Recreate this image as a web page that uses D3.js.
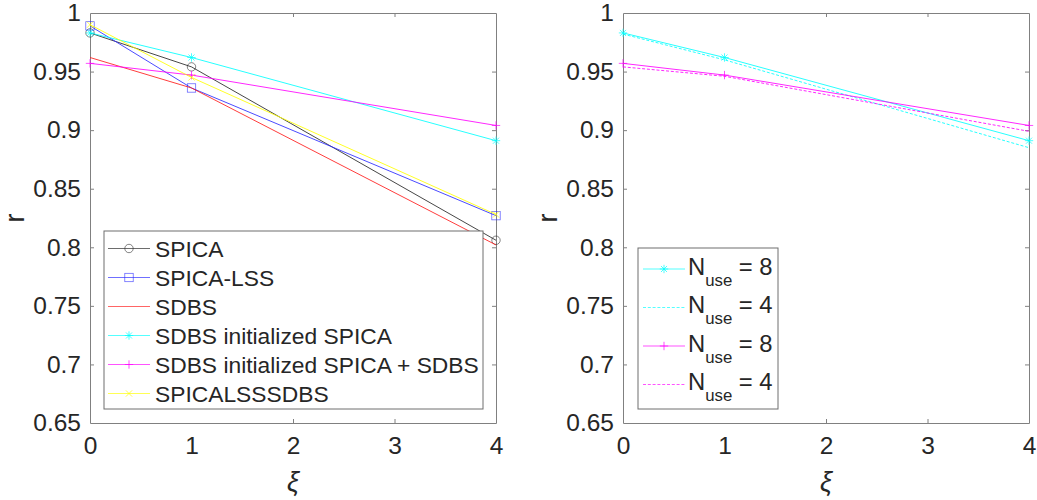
<!DOCTYPE html>
<html>
<head>
<meta charset="utf-8">
<script src="https://cdn.jsdelivr.net/npm/d3@7"></script>
<style>
  body { margin: 0; background: #fff; }
  text { font-family: "Liberation Sans", Arial, Helvetica, sans-serif; fill: #262626; }
</style>
</head>
<body>
<svg id="chart" width="1037" height="500"></svg>
<script>
// Correlation r versus noise level xi
const xiValues = [0, 1, 4];

// Left panel: method comparison
const spica             = [0.983, 0.954, 0.806];
const spicaLss          = [0.989, 0.936, 0.827];
const sdbs              = [0.962, 0.936, 0.802];
const sdbsInitSpica     = [0.983, 0.962, 0.891];
const sdbsInitSpicaSdbs = [0.957, 0.947, 0.904];
const spicaLssSdbs      = [0.990, 0.945, 0.828];

// Right panel: effect of N_use
const cyanNuse8    = [0.983, 0.962, 0.891];
const cyanNuse4    = [0.982, 0.960, 0.885];
const magentaNuse8 = [0.957, 0.947, 0.904];
const magentaNuse4 = [0.954, 0.946, 0.899];

const xTickValues = [0, 1, 2, 3, 4];
const yTickValues = [0.65, 0.7, 0.75, 0.8, 0.85, 0.9, 0.95, 1];
const yTickLabels = ["0.65", "0.7", "0.75", "0.8", "0.85", "0.9", "0.95", "1"];

const leftSeries = [
  { name: "SPICA", values: spica, color: "#262626", marker: "circle", dash: null },
  { name: "SPICA-LSS", values: spicaLss, color: "#2a2aff", marker: "square", dash: null },
  { name: "SDBS", values: sdbs, color: "#ff1a1a", marker: null, dash: null },
  { name: "SDBS initialized SPICA", values: sdbsInitSpica, color: "#00ffff", marker: "asterisk", dash: null },
  { name: "SDBS initialized SPICA + SDBS", values: sdbsInitSpicaSdbs, color: "#ff00ff", marker: "plus", dash: null },
  { name: "SPICALSSSDBS", values: spicaLssSdbs, color: "#ffff00", marker: "cross", dash: null }
];

const rightSeries = [
  { name: "8", values: cyanNuse8, color: "#00ffff", marker: "asterisk", dash: null },
  { name: "4", values: cyanNuse4, color: "#00ffff", marker: null, dash: "3,1.8" },
  { name: "8", values: magentaNuse8, color: "#ff00ff", marker: "plus", dash: null },
  { name: "4", values: magentaNuse4, color: "#ff00ff", marker: null, dash: "3,1.8" }
];

const svg = d3.select("#chart");
const axisColor = "#808080";
const tickLen = 4;
const lineWidth = 0.85;

function drawMarker(g, type, x, y, color) {
  const s = 4.2;
  if (type === "circle") {
    g.append("circle").attr("cx", x).attr("cy", y).attr("r", s)
      .attr("fill", "none").attr("stroke", color).attr("stroke-width", 0.7).attr("stroke-opacity", 0.8);
  } else if (type === "square") {
    g.append("rect").attr("x", x - s).attr("y", y - s).attr("width", 2 * s).attr("height", 2 * s)
      .attr("fill", "none").attr("stroke", color).attr("stroke-width", 0.7).attr("stroke-opacity", 0.8);
  } else if (type === "plus" || type === "asterisk" || type === "cross") {
    const segs = [];
    if (type !== "cross") segs.push([-s, 0, s, 0], [0, -s, 0, s]);
    if (type !== "plus") {
      const d = type === "asterisk" ? s * 0.72 : s * 0.75;
      segs.push([-d, -d, d, d], [-d, d, d, -d]);
    }
    segs.forEach(q => g.append("line")
      .attr("x1", x + q[0]).attr("y1", y + q[1]).attr("x2", x + q[2]).attr("y2", y + q[3])
      .attr("stroke", color).attr("stroke-width", 0.7));
  }
}

function drawPanel(left, series) {
  const x0 = left, x1 = left + 406, yTop = 13, yBot = 423;
  const x = d3.scaleLinear().domain([0, 4]).range([x0, x1]);
  const y = d3.scaleLinear().domain([0.65, 1]).range([yBot, yTop]);
  const g = svg.append("g");

  // frame with ticks on all four sides
  const axB = d3.axisBottom(x).tickValues(xTickValues).tickFormat(d3.format("d"))
    .tickSizeInner(-tickLen).tickSizeOuter(0).tickPadding(14);
  const axT = d3.axisTop(x).tickValues(xTickValues).tickFormat("")
    .tickSizeInner(-tickLen).tickSizeOuter(0);
  const axL = d3.axisLeft(y).tickValues(yTickValues).tickFormat((d, i) => yTickLabels[i])
    .tickSizeInner(-tickLen).tickSizeOuter(0).tickPadding(9);
  const axR = d3.axisRight(y).tickValues(yTickValues).tickFormat("")
    .tickSizeInner(-tickLen).tickSizeOuter(0);

  const styleAxis = sel => {
    sel.selectAll("path").attr("stroke", axisColor).attr("stroke-width", 1);
    sel.selectAll("line").attr("stroke", axisColor).attr("stroke-width", 1);
    sel.selectAll("text").attr("font-size", 24.5).attr("fill", "#262626")
      .attr("font-family", "Liberation Sans, Arial, sans-serif");
  };
  g.append("g").attr("transform", `translate(0,${yBot})`).call(axB).call(styleAxis);
  g.append("g").attr("transform", `translate(0,${yTop})`).call(axT).call(styleAxis);
  g.append("g").attr("transform", `translate(${x0},0)`).call(axL).call(styleAxis);
  g.append("g").attr("transform", `translate(${x1},0)`).call(axR).call(styleAxis);
  g.selectAll(".tick line").filter(d => d === 0 || d === 4 || d === 0.65 || d === 1).remove();

  // series lines
  const line = d3.line().x((d, i) => x(xiValues[i])).y(d => y(d));
  series.forEach(s => {
    g.append("path").datum(s.values).attr("d", line)
      .attr("fill", "none").attr("stroke", s.color).attr("stroke-width", lineWidth)
      .attr("stroke-dasharray", s.dash);
    if (s.marker) s.values.forEach((v, i) => drawMarker(g, s.marker, x(xiValues[i]), y(v), s.color));
  });

  // axis titles
  g.append("text").attr("x", (x0 + x1) / 2).attr("y", 491).attr("text-anchor", "middle")
    .attr("font-family", "Liberation Serif, Times New Roman, serif").attr("font-style", "italic")
    .attr("font-size", 27).text("ξ");
  g.append("text").attr("transform", `translate(${x0 - 66},${(yTop + yBot) / 2}) rotate(-90)`)
    .attr("text-anchor", "middle").attr("font-size", 27).text("r");
  return g;
}

// left panel
const gL = drawPanel(90, leftSeries);
const legL = gL.append("g");
legL.append("rect").attr("x", 104).attr("y", 231).attr("width", 379).attr("height", 178)
  .attr("fill", "#fff").attr("stroke", "#6e6e6e").attr("stroke-width", 1);
leftSeries.forEach((s, i) => {
  const cy = 248.5 + i * 29;
  legL.append("line").attr("x1", 108).attr("x2", 150).attr("y1", cy).attr("y2", cy)
    .attr("stroke", s.color).attr("stroke-width", lineWidth).attr("stroke-opacity", 0.8);
  if (s.marker) drawMarker(legL, s.marker, 129, cy, s.color);
  legL.append("text").attr("x", 155).attr("y", cy + 8).attr("font-size", 22.8).attr("fill", "#000").text(s.name);
});

// right panel
const gR = drawPanel(623, rightSeries);
const legR = gR.append("g");
legR.append("rect").attr("x", 638).attr("y", 248).attr("width", 140).attr("height", 161)
  .attr("fill", "#fff").attr("stroke", "#6e6e6e").attr("stroke-width", 1);
rightSeries.forEach((s, i) => {
  const cy = 269 + i * 38.5;
  legR.append("line").attr("x1", 643).attr("x2", 685).attr("y1", cy).attr("y2", cy)
    .attr("stroke", s.color).attr("stroke-width", lineWidth).attr("stroke-opacity", 0.8)
    .attr("stroke-dasharray", s.dash);
  if (s.marker) drawMarker(legR, s.marker, 664, cy, s.color);
  const t = legR.append("text").attr("x", 688).attr("y", cy + 5.5).attr("font-size", 23.8).attr("fill", "#000");
  t.append("tspan").text("N");
  t.append("tspan").attr("font-size", 16.8).attr("dy", 11).text("use");
  t.append("tspan").attr("dy", -11).text(" = " + s.name);
});
</script>
</body>
</html>
